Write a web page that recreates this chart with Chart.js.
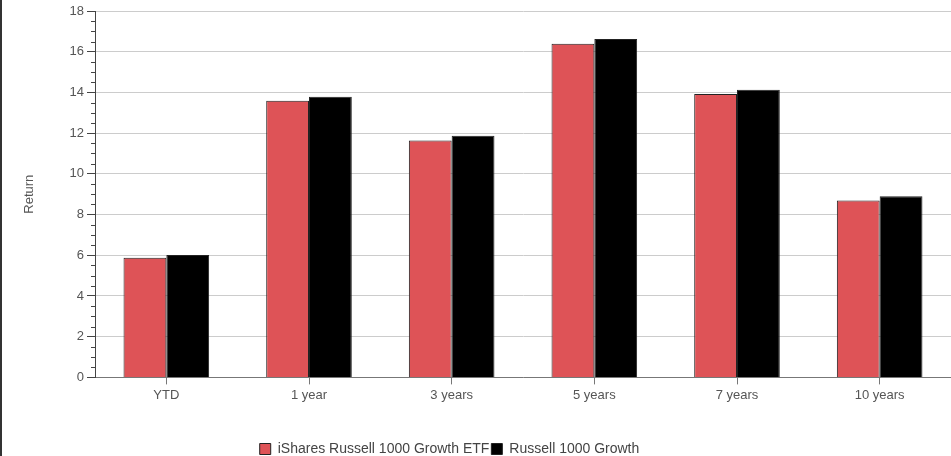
<!DOCTYPE html>
<html>
<head>
<meta charset="utf-8">
<script src="https://cdn.jsdelivr.net/npm/chart.js@4/dist/chart.umd.min.js"></script>
<style>
  html, body { margin: 0; padding: 0; background: #fff; }
  #wrap { width: 949px; height: 456px; border-left: 2px solid #333; position: relative; }
  canvas { display: block; }
</style>
</head>
<body>
<div id="wrap"><canvas id="chart" width="949" height="456"></canvas></div>
<script>
// Trailing returns by period (%)
const periods = ['YTD', '1 year', '3 years', '5 years', '7 years', '10 years'];
const etfReturns = [5.88, 13.59, 11.64, 16.39, 13.92, 8.69];
const indexReturns = [6.01, 13.79, 11.87, 16.63, 14.13, 8.90];
const seriesNames = ['iShares Russell 1000 Growth ETF', 'Russell 1000 Growth'];
const yTicks = [0, 2, 4, 6, 8, 10, 12, 14, 16, 18];

const FONT = 'Liberation Sans, Arial, sans-serif';
const TEXT = '#555';

// Short minor ticks every 0.5 between the labelled y ticks
const minorTicks = {
  id: 'minorTicks',
  afterDraw(chart) {
    const y = chart.scales.y;
    const ctx = chart.ctx;
    const x0 = y.right;
    ctx.save();
    ctx.strokeStyle = '#444';
    ctx.lineWidth = 1;
    ctx.beginPath();
    for (let v = yTicks[0]; v < yTicks[yTicks.length - 1]; v += 0.5) {
      if (v % 2 === 0) continue;
      const py = Math.round(y.getPixelForValue(v)) + 0.5;
      ctx.moveTo(x0 - 4, py);
      ctx.lineTo(x0, py);
    }
    ctx.stroke();
    ctx.restore();
  }
};

// Move the legend row slightly left and down
const legendShift = {
  id: 'legendShift',
  afterLayout(chart) {
    const lg = chart.legend;
    if (lg) {
      lg.left -= 27;
      lg.right -= 27;
      lg.top += 10;
      lg.bottom += 10;
    }
  }
};

new Chart(document.getElementById('chart'), {
  type: 'bar',
  data: {
    labels: periods,
    datasets: [
      {
        label: seriesNames[0],
        data: etfReturns,
        backgroundColor: '#DE5357',
        borderColor: '#222',
        borderWidth: 1
      },
      {
        label: seriesNames[1],
        data: indexReturns,
        backgroundColor: '#000',
        borderColor: '#222',
        borderWidth: 1
      }
    ]
  },
  options: {
    responsive: false,
    animation: false,
    devicePixelRatio: 1,
    layout: { padding: { top: 11, right: 0, left: 0, bottom: 0 } },
    datasets: { bar: { categoryPercentage: 0.6, barPercentage: 1.0 } },
    plugins: {
      tooltip: { enabled: false },
      legend: {
        position: 'bottom',
        labels: {
          font: { family: FONT, size: 14 },
          color: '#444',
          boxWidth: 11,
          boxHeight: 11,
          padding: 2
        }
      }
    },
    scales: {
      x: {
        afterFit(scale) { scale.height += 24; },
        grid: {
          offset: false,
          drawOnChartArea: false,
          tickLength: 7,
          color: '#777'
        },
        border: { color: '#777' },
        ticks: {
          font: { family: FONT, size: 13 },
          color: TEXT,
          padding: 3
        }
      },
      y: {
        min: 0,
        max: 18,
        afterBuildTicks(scale) {
          scale.ticks = yTicks.map(v => ({ value: v }));
        },
        afterFit(scale) { scale.width = 93; },
        grid: {
          color: '#ccc',
          tickColor: '#444',
          tickLength: 8
        },
        border: { color: '#444' },
        ticks: {
          font: { family: FONT, size: 13 },
          color: TEXT,
          padding: 3
        },
        title: {
          display: true,
          text: 'Return',
          font: { family: FONT, size: 13 },
          color: TEXT,
          padding: { top: 20, bottom: 0 }
        }
      }
    }
  },
  plugins: [minorTicks, legendShift]
});
</script>
</body>
</html>
